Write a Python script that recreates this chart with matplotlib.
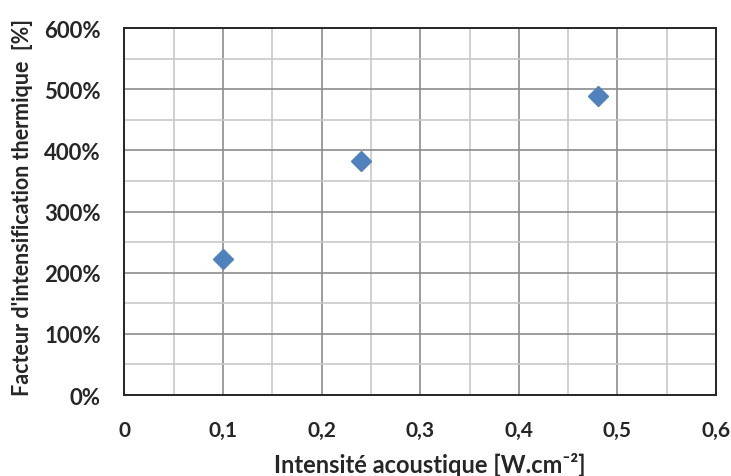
import matplotlib.pyplot as plt
from matplotlib.ticker import MultipleLocator, FuncFormatter

intensite = [0.1, 0.24, 0.48]
facteur = [2.23, 3.82, 4.89]

plt.rcParams['font.family'] = ['Lato', 'DejaVu Sans']
plt.rcParams['font.weight'] = 'bold'

fig = plt.figure(figsize=(7.31, 4.77), dpi=100)
ax = fig.add_axes([0.1703, 0.1698, 0.8092, 0.7694])

ax.plot(intensite, facteur, linestyle='none', marker='D', markersize=10,
        color='#4F81BD', zorder=3, clip_on=False)

ax.set_xlim(0, 0.6)
ax.set_ylim(0, 6)
ax.xaxis.set_major_locator(MultipleLocator(0.1))
ax.xaxis.set_minor_locator(MultipleLocator(0.05))
ax.yaxis.set_major_locator(MultipleLocator(1))
ax.yaxis.set_minor_locator(MultipleLocator(0.5))
ax.xaxis.set_major_formatter(FuncFormatter(lambda v, p: '0' if abs(v) < 1e-9 else f'{v:.1f}'.replace('.', ',')))
ax.yaxis.set_major_formatter(FuncFormatter(lambda v, p: f'{v * 100:.0f}%'))

ax.grid(which='major', color='#8c8c8c', linewidth=1.2)
ax.grid(which='minor', color='#c8c8c8', linewidth=1.2)
ax.set_axisbelow(True)
ax.tick_params(which='both', length=0)
ax.tick_params(axis='x', pad=18, labelsize=15, labelcolor='#262626')
ax.tick_params(axis='y', pad=17, labelsize=16, labelcolor='#262626')
for s in ax.spines.values():
    s.set_color('#262626')
    s.set_linewidth(1.4)

# axis titles placed by hand, like the Excel layout
fig.text(430 / 731, 1 - 465 / 477, 'Intensité acoustique [W.cm⁻²]', ha='center', va='center',
         fontsize=17, fontweight='bold', color='#262626')
fig.text(23 / 731, 1 - 208 / 477, "Facteur d'intensification thermique  [%]", ha='center', va='center',
         rotation=90, fontsize=15.5, fontweight='bold', color='#262626')

fig.savefig('out.png', dpi=100)
